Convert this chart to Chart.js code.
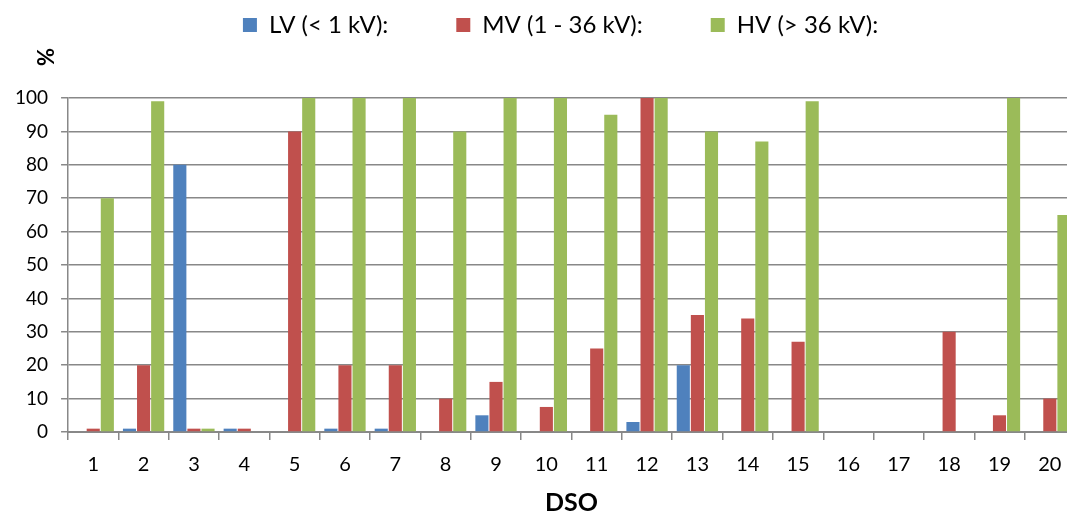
<!DOCTYPE html>
<html>
<head>
<meta charset="utf-8">
<script src="https://cdn.jsdelivr.net/npm/chart.js@4.4.1/dist/chart.umd.min.js"></script>
<style>
html,body{margin:0;padding:0;overflow:hidden;background:#fff}
#wrap{width:1076px;height:515px;position:relative}
</style>
</head>
<body>
<div id="wrap"><canvas id="c"></canvas></div>
<script>
const categories = ['1','2','3','4','5','6','7','8','9','10','11','12','13','14','15','16','17','18','19','20'];
const lvValues = [0, 1, 80, 1, 0, 1, 1, 0, 5, 0, 0, 3, 20, 0, 0, 0, 0, 0, 0, 0];
const mvValues = [1, 20, 1, 1, 90, 20, 20, 10, 15, 7.5, 25, 100, 35, 34, 27, 0, 0, 30, 5, 10];
const hvValues = [70, 99, 1, 0, 100, 100, 100, 90, 100, 100, 95, 100, 90, 87, 99, 0, 0, 0, 100, 65];
const seriesLabels = ['LV (< 1 kV):', 'MV (1 - 36 kV):', 'HV (> 36 kV):'];
const seriesColors = ['#4F81BD', '#C0504D', '#9BBB59'];
const yAxisTitle = '%';
const xAxisTitle = 'DSO';

const gridColor = '#888888';

const percentLabel = {
  id: 'percentLabel',
  afterDraw(chart) {
    const ctx = chart.ctx;
    ctx.save();
    ctx.translate(47, 57);
    ctx.rotate(-Math.PI / 2);
    ctx.font = 'bold 22px Lato';
    ctx.fillStyle = '#000';
    ctx.textAlign = 'center';
    ctx.textBaseline = 'middle';
    ctx.fillText(yAxisTitle, 0, 0);
    ctx.restore();
  }
};

const legendShift = {
  id: 'legendShift',
  afterLayout(chart) {
    if (chart.legend) {
      chart.legend.left -= 11;
      chart.legend.right -= 11;
    }
  }
};

function build() {
  const datasets = [lvValues, mvValues, hvValues].map((vals, i) => ({
    label: seriesLabels[i],
    data: vals,
    backgroundColor: seriesColors[i],
    borderWidth: 0,
    barPercentage: 0.93,
    categoryPercentage: 0.84
  }));

  new Chart(document.getElementById('c'), {
    type: 'bar',
    data: { labels: categories, datasets },
    plugins: [percentLabel, legendShift],
    options: {
      responsive: true,
      maintainAspectRatio: false,
      animation: false,
      layout: { padding: { top: -55, left: 2, right: 1, bottom: 0 } },
      plugins: {
        tooltip: { enabled: false },
        title: {
          display: true,
          text: '',
          weight: 500,
          padding: 0,
          font: { size: 51, lineHeight: 1 }
        },
        legend: {
          position: 'top',
          fullSize: false,
          labels: {
            boxWidth: 14,
            boxHeight: 14,
            padding: 68,
            color: '#000',
            font: { family: 'Lato', size: 24 }
          }
        }
      },
      scales: {
        x: {
          grid: {
            display: true,
            drawOnChartArea: false,
            drawTicks: true,
            tickLength: 8,
            color: gridColor,
            lineWidth: 1.5,
            offset: true
          },
          border: { display: true, color: gridColor, width: 2 },
          ticks: {
            color: '#000',
            padding: 13,
            font: { family: 'Lato', size: 20 },
            maxRotation: 0,
            autoSkip: false
          },
          title: {
            display: true,
            text: xAxisTitle,
            color: '#000',
            font: { family: 'Lato', size: 25, weight: 'bold', lineHeight: 1 },
            padding: { top: 0, bottom: 0 }
          }
        },
        y: {
          min: 0,
          max: 100,
          ticks: {
            stepSize: 10,
            color: '#000',
            padding: 13,
            font: { family: 'Lato', size: 19 }
          },
          grid: {
            color: gridColor,
            lineWidth: 1.5,
            tickLength: 7,
            drawTicks: true
          },
          border: { display: true, color: gridColor, width: 1.5 }
        }
      }
    }
  });
}

Promise.all([
  document.fonts.load('20px Lato'),
  document.fonts.load('bold 22px Lato')
]).then(build, build);
</script>
</body>
</html>
